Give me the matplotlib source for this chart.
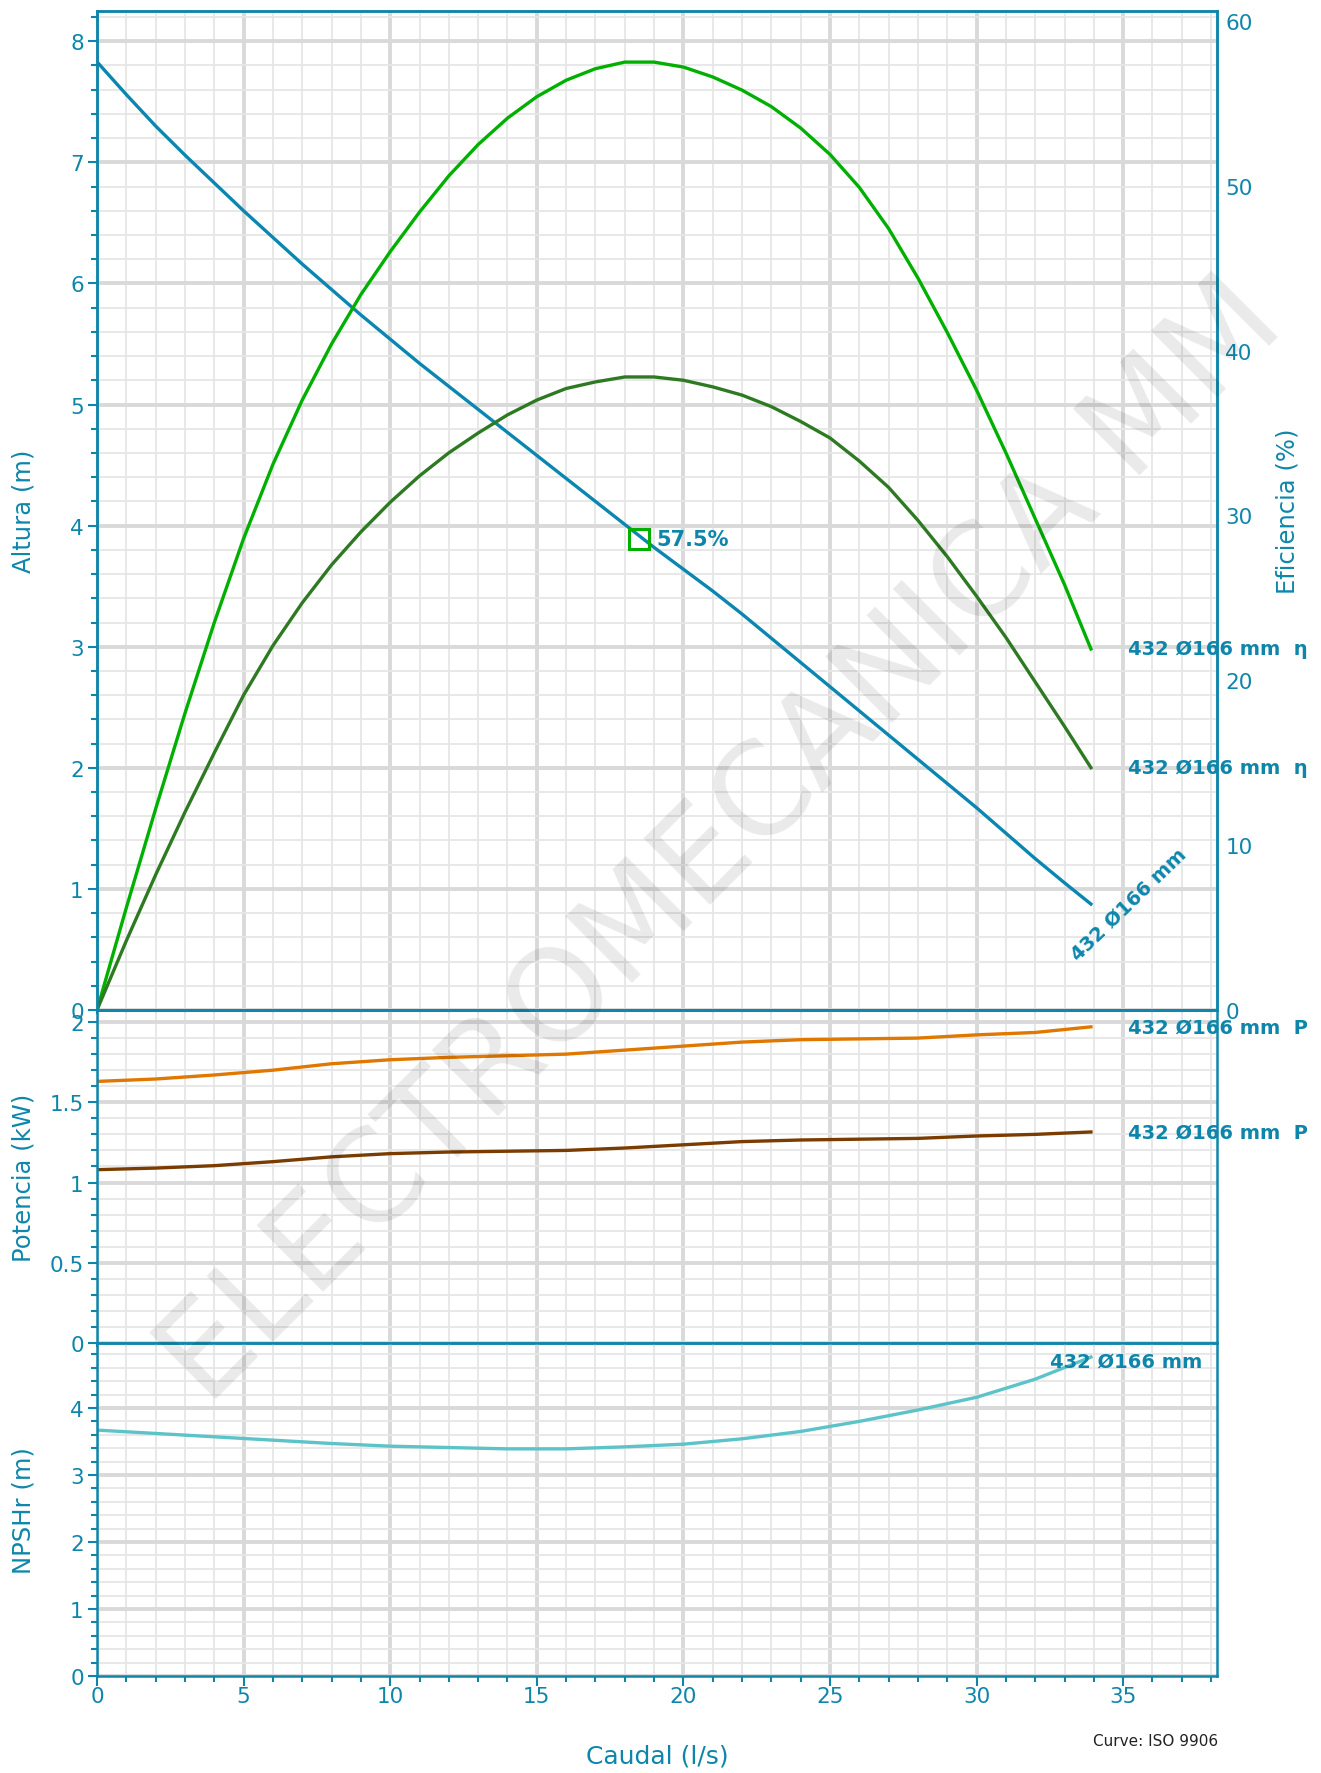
import matplotlib
matplotlib.use('Agg')
from matplotlib import pyplot as plt
from matplotlib.ticker import MultipleLocator

# colours
teal = '#0e86ab'
grid_major = '#d9d9d9'
grid_minor = '#e6e6e6'

# flow points (l/s)
q_fine = [0, 1, 2, 3, 4, 5, 6, 7, 8, 9, 10, 11, 12, 13, 14, 15, 16, 17, 18, 19, 20,
          21, 22, 23, 24, 25, 26, 27, 28, 29, 30, 31, 32, 33, 33.9]
q = [0, 2, 4, 6, 8, 10, 12, 14, 16, 18, 20, 22, 24, 26, 28, 30, 32, 33.9]

# efficiency curves (%)
eta_hyd = [0, 6.2, 12.2, 18.0, 23.5, 28.6, 33.1, 37.0, 40.4, 43.4, 46.0, 48.4, 50.6,
           52.5, 54.1, 55.4, 56.4, 57.1, 57.5, 57.5, 57.2, 56.6, 55.8, 54.8, 53.5,
           51.9, 49.9, 47.4, 44.4, 41.1, 37.6, 33.8, 29.8, 25.8, 21.9]
eta_tot = [0, 4.2, 8.2, 12.0, 15.6, 19.1, 22.1, 24.7, 27.0, 29.0, 30.8, 32.4, 33.8,
           35.0, 36.1, 37.0, 37.7, 38.1, 38.4, 38.4, 38.2, 37.8, 37.3, 36.6, 35.7,
           34.7, 33.3, 31.7, 29.7, 27.5, 25.1, 22.6, 19.9, 17.2, 14.7]

# head (m)
head = [7.83, 7.56, 7.30, 7.06, 6.83, 6.60, 6.38, 6.16, 5.95, 5.74, 5.54, 5.34, 5.15,
        4.96, 4.77, 4.58, 4.39, 4.20, 4.01, 3.82, 3.64, 3.46, 3.27, 3.07, 2.87, 2.67,
        2.47, 2.27, 2.07, 1.87, 1.67, 1.46, 1.25, 1.05, 0.875]

# power (kW)
p2 = [1.63, 1.645, 1.67, 1.70, 1.74, 1.765, 1.78, 1.79, 1.80, 1.825, 1.85, 1.875, 1.89,
      1.895, 1.90, 1.92, 1.935, 1.97]
p1 = [1.08, 1.09, 1.105, 1.13, 1.16, 1.18, 1.19, 1.195, 1.20, 1.215, 1.235, 1.255, 1.265,
      1.27, 1.275, 1.29, 1.30, 1.315]

# npsh (m)
npsh = [3.67, 3.62, 3.57, 3.52, 3.47, 3.43, 3.41, 3.39, 3.39, 3.42, 3.46, 3.54, 3.65,
        3.80, 3.97, 4.16, 4.43, 4.76]

# best efficiency point
bep_q = 18.48
bep_h = 3.89
bep_label = '57.5%'
curve_name = '432 Ø166 mm'

fig = plt.figure(figsize=(13.21, 17.74), dpi=100)

L = 97 / 1321.0
W = (1217 - 97) / 1321.0
H = 1774.0

def frac(y0, y1):
    return [L, 1 - y1 / H, W, (y1 - y0) / H]

ax_h = fig.add_axes(frac(12, 1011))
ax_p = fig.add_axes(frac(1011, 1344))
ax_n = fig.add_axes(frac(1344, 1677))


def style(ax, ymin, ymax, major, minor):
    ax.set_facecolor('none')
    ax.set_xlim(0, 38.2)
    ax.set_ylim(ymin, ymax)
    ax.xaxis.set_major_locator(MultipleLocator(5))
    ax.xaxis.set_minor_locator(MultipleLocator(1))
    ax.yaxis.set_major_locator(MultipleLocator(major))
    ax.yaxis.set_minor_locator(MultipleLocator(minor))
    ax.set_axisbelow(True)
    ax.grid(which='major', color=grid_major, lw=2.8)
    ax.grid(which='minor', color=grid_minor, lw=1.3)
    for s in ax.spines.values():
        s.set_color(teal)
        s.set_linewidth(1.8)
    ax.tick_params(axis='both', which='both', colors=teal, labelcolor=teal,
                   labelsize=15.5, width=1.5)
    ax.tick_params(axis='y', which='major', length=6.5, pad=3)
    ax.tick_params(axis='y', which='minor', length=4.3)
    ax.tick_params(axis='x', which='major', length=3)
    ax.tick_params(axis='x', which='minor', length=2)


style(ax_h, 0, 8.25, 1, 0.2)
style(ax_p, 0, 2.075, 0.5, 0.1)
style(ax_n, 0, 4.97, 1, 0.2)

ax_h.set_yticks([0, 1, 2, 3, 4, 5, 6, 7, 8])
ax_p.set_yticks([0, 0.5, 1, 1.5, 2])
ax_p.set_yticklabels(['0', '0.5', '1', '1.5', '2'])
ax_n.set_yticks([0, 1, 2, 3, 4])

ax_h.tick_params(axis='x', labelbottom=False)
ax_p.tick_params(axis='x', labelbottom=False)
ax_n.tick_params(axis='x', which='major', length=7, pad=0.5)
ax_n.tick_params(axis='x', which='minor', length=4.3)

ax_h.set_ylabel('Altura (m)', color=teal, fontsize=17.5)
ax_p.set_ylabel('Potencia (kW)', color=teal, fontsize=17.5)
ax_n.set_ylabel('NPSHr (m)', color=teal, fontsize=17.5)
for ax in (ax_h, ax_p, ax_n):
    ax.yaxis.set_label_coords(-0.055, 0.5)
ax_n.set_xlabel('Caudal (l/s)', color=teal, fontsize=18, labelpad=27)

# efficiency axis on the right
ax_e = ax_h.twinx()
ax_e.set_ylim(0, 60.6)
ax_e.set_yticks([0, 10, 20, 30, 40, 50, 60])
ax_e.tick_params(axis='y', length=0, pad=6, colors=teal, labelcolor=teal, labelsize=15.5)
for s in ax_e.spines.values():
    s.set_color(teal)
    s.set_linewidth(1.8)
ax_e.set_ylabel('Eficiencia (%)', color=teal, fontsize=17.5)
ax_e.yaxis.set_label_coords(1.052, 0.5)

# curves
ax_h.plot(q_fine, head, color='#0a86b0', lw=2.4, zorder=3)
ax_e.plot(q_fine, eta_hyd, color='#00b000', lw=2.4)
ax_e.plot(q_fine, eta_tot, color='#2e7a22', lw=2.4)
ax_p.plot(q, p2, color='#e07800', lw=2.4)
ax_p.plot(q, p1, color='#7a3c00', lw=2.4)
ax_n.plot(q, npsh, color='#5cc3c8', lw=2.4)

# best efficiency point
ax_h.plot([bep_q], [bep_h], marker='s', ms=14, mfc='none', mec='#00b000', mew=2.2, zorder=5)
ax_h.text(bep_q + 0.6, bep_h, bep_label, color=teal, fontsize=15, fontweight='bold',
          ha='left', va='center')

# curve labels
lx = 35.15
ax_e.text(lx, eta_hyd[-1], curve_name + '  η', color=teal, fontsize=14,
          fontweight='bold', ha='left', va='center', clip_on=False)
ax_e.text(lx, eta_tot[-1], curve_name + '  η', color=teal, fontsize=14,
          fontweight='bold', ha='left', va='center', clip_on=False)
ax_p.text(lx, p2[-1], curve_name + '  P', color=teal, fontsize=14,
          fontweight='bold', ha='left', va='center', clip_on=False)
ax_p.text(lx, p1[-1], curve_name + '  P', color=teal, fontsize=14,
          fontweight='bold', ha='left', va='center', clip_on=False)
ax_n.text(35.1, 4.7, curve_name, color=teal, fontsize=14, fontweight='bold',
          ha='center', va='center', clip_on=False)
ax_h.text(35.2, head[-1], curve_name, color=teal, fontsize=14, fontweight='bold',
          ha='center', va='center', rotation=44, rotation_mode='anchor', clip_on=False)

fig.text(1218 / 1321.0, 1 - 1742 / H, 'Curve: ISO 9906', color='#222222', fontsize=11,
         ha='right', va='center')

# watermark
fig.text(0.547, 0.525, 'ELECTROMECANICA MM', rotation=45, fontsize=92, color='#000000',
         alpha=0.085, ha='center', va='center', zorder=10)

fig.savefig('out.png', dpi=100)
